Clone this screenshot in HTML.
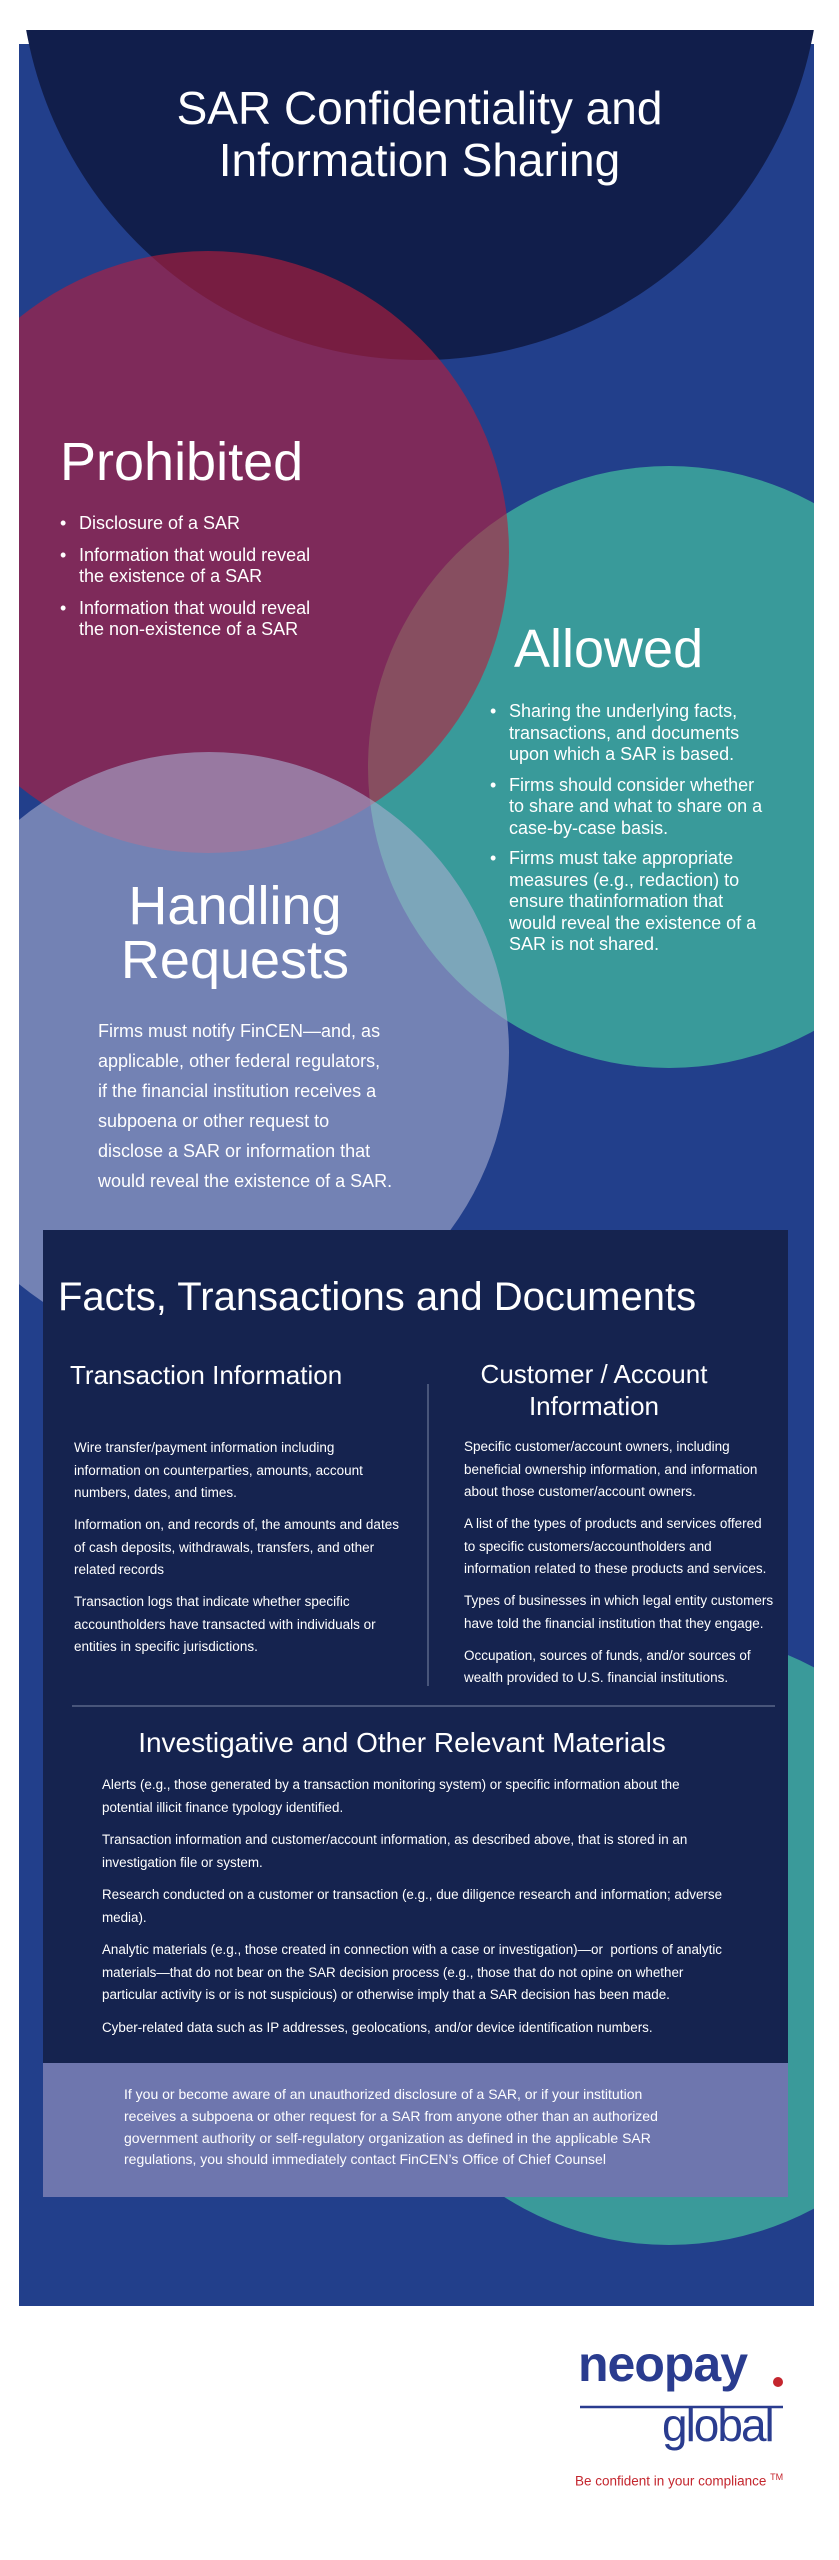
<!DOCTYPE html>
<html><head><meta charset="utf-8"><style>
html,body{margin:0;padding:0;background:#fff;}
body{width:839px;height:2560px;position:relative;overflow:hidden;font-family:"Liberation Sans",sans-serif;color:#fff;}
.a{position:absolute;white-space:nowrap;}
.bl{position:relative;padding-left:19px;}
.bl:before{content:"•";position:absolute;left:0;top:0;}
p{margin:0;}
</style></head><body>
<svg class="a" style="left:0;top:0" width="839" height="2560">
<defs>
<clipPath id="pc"><rect x="19" y="44" width="795" height="2262"/></clipPath>
<clipPath id="nc"><rect x="0" y="30" width="839" height="600"/></clipPath>
</defs>
<rect x="19" y="44" width="795" height="2262" fill="#223f8b"/>
<circle cx="420" cy="-40" r="400" fill="#111e4b" clip-path="url(#nc)"/>
<g clip-path="url(#pc)">
<circle cx="669" cy="767" r="301" fill="rgb(64,177,158)" fill-opacity="0.8"/>
<circle cx="208" cy="552" r="301" fill="rgb(188,28,58)" fill-opacity="0.6"/>
<circle cx="209" cy="1052" r="300" fill="rgb(170,175,208)" fill-opacity="0.6"/>
<circle cx="669" cy="1938" r="307" fill="#3a9a9a"/>
</g>
<rect x="43" y="1230" width="745" height="833" fill="#15234f"/>
<rect x="43" y="2063" width="745" height="134" fill="#6e76ae"/>
<line x1="428" y1="1384" x2="428" y2="1686" stroke="#5a6688" stroke-width="1.5"/>
<line x1="72" y1="1706" x2="775" y2="1706" stroke="#5a6688" stroke-width="1.5"/>
<line x1="580" y1="2407" x2="783" y2="2407" stroke="#2a3c8f" stroke-width="2.5"/>
<circle cx="778" cy="2382" r="5" fill="#c4262e"/>
</svg>

<div class="a" style="left:0;width:839px;top:82px;font-size:46px;line-height:52px;text-align:center;">SAR Confidentiality and<br>Information Sharing</div>

<div class="a" style="left:60px;top:432px;font-size:54px;line-height:60px;">Prohibited</div>
<div class="a" style="left:60px;top:513px;font-size:18px;line-height:21px;">
<div class="bl" style="margin-bottom:11px">Disclosure of a SAR</div>
<div class="bl" style="margin-bottom:11px">Information that would reveal<br>the existence of a SAR</div>
<div class="bl">Information that would reveal<br>the non-existence of a SAR</div>
</div>

<div class="a" style="left:514px;top:619px;font-size:54px;line-height:60px;">Allowed</div>
<div class="a" style="left:490px;top:701px;font-size:18px;line-height:21.5px;">
<div class="bl" style="margin-bottom:9px">Sharing the underlying facts,<br>transactions, and documents<br>upon which a SAR is based.</div>
<div class="bl" style="margin-bottom:9px">Firms should consider whether<br>to share and what to share on a<br>case-by-case basis.</div>
<div class="bl">Firms must take appropriate<br>measures (e.g., redaction) to<br>ensure thatinformation that<br>would reveal the existence of a<br>SAR is not shared.</div>
</div>

<div class="a" style="left:60px;width:350px;top:879px;font-size:54px;line-height:54px;text-align:center;">Handling<br>Requests</div>
<div class="a" style="left:98px;top:1016px;font-size:18px;line-height:30px;">Firms must notify FinCEN—and, as<br>applicable, other federal regulators,<br>if the financial institution receives a<br>subpoena or other request to<br>disclose a SAR or information that<br>would reveal the existence of a SAR.</div>

<div class="a" style="left:58px;top:1275px;font-size:40px;line-height:44px;">Facts, Transactions and Documents</div>
<div class="a" style="left:70px;top:1360px;font-size:26px;line-height:30px;">Transaction Information</div>
<div class="a" style="left:420px;width:348px;top:1358px;font-size:26px;line-height:32px;text-align:center;">Customer / Account<br>Information</div>

<div class="a" style="left:74px;top:1437px;font-size:13.5px;line-height:22.5px;">
<p style="margin-bottom:9.5px">Wire transfer/payment information including<br>information on counterparties, amounts, account<br>numbers, dates, and times.</p>
<p style="margin-bottom:9.5px">Information on, and records of, the amounts and dates<br>of cash deposits, withdrawals, transfers, and other<br>related records</p>
<p>Transaction logs that indicate whether specific<br>accountholders have transacted with individuals or<br>entities in specific jurisdictions.</p>
</div>
<div class="a" style="left:464px;top:1436px;font-size:13.5px;line-height:22.5px;">
<p style="margin-bottom:9.5px">Specific customer/account owners, including<br>beneficial ownership information, and information<br>about those customer/account owners.</p>
<p style="margin-bottom:9.5px">A list of the types of products and services offered<br>to specific customers/accountholders and<br>information related to these products and services.</p>
<p style="margin-bottom:9.5px">Types of businesses in which legal entity customers<br>have told the financial institution that they engage.</p>
<p>Occupation, sources of funds, and/or sources of<br>wealth provided to U.S. financial institutions.</p>
</div>

<div class="a" style="left:72px;width:660px;top:1727px;font-size:28px;line-height:32px;text-align:center;">Investigative and Other Relevant Materials</div>
<div class="a" style="left:102px;top:1774px;font-size:13.4px;line-height:22.5px;">
<p style="margin-bottom:10px">Alerts (e.g., those generated by a transaction monitoring system) or specific information about the<br>potential illicit finance typology identified.</p>
<p style="margin-bottom:10px">Transaction information and customer/account information, as described above, that is stored in an<br>investigation file or system.</p>
<p style="margin-bottom:10px">Research conducted on a customer or transaction (e.g., due diligence research and information; adverse<br>media).</p>
<p style="margin-bottom:10px">Analytic materials (e.g., those created in connection with a case or investigation)—or &nbsp;portions of analytic<br>materials—that do not bear on the SAR decision process (e.g., those that do not opine on whether<br>particular activity is or is not suspicious) or otherwise imply that a SAR decision has been made.</p>
<p>Cyber-related data such as IP addresses, geolocations, and/or device identification numbers.</p>
</div>

<div class="a" style="left:124px;top:2084px;font-size:14px;line-height:21.8px;">If you or become aware of an unauthorized disclosure of a SAR, or if your institution<br>receives a subpoena or other request for a SAR from anyone other than an authorized<br>government authority or self-regulatory organization as defined in the applicable SAR<br>regulations, you should immediately contact FinCEN’s Office of Chief Counsel</div>

<div class="a" style="left:578px;top:2336px;font-size:50px;line-height:56px;font-weight:bold;color:#2a3c8f;letter-spacing:-1px;">neopay</div>
<div class="a" style="left:662px;top:2400px;font-size:46px;line-height:50px;color:#2a3c8f;letter-spacing:-2px;">global</div>
<div class="a" style="left:575px;top:2469px;font-size:13.5px;line-height:16px;color:#c4262e;">Be confident in your compliance <sup style="font-size:9px">TM</sup></div>
</body></html>
